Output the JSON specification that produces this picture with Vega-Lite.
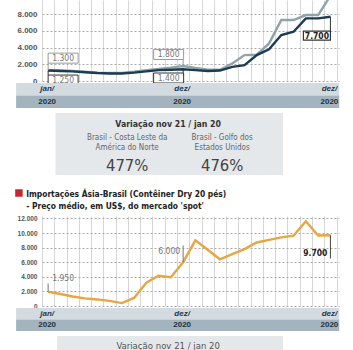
{
  "$schema": "https://vega.github.io/schema/vega-lite/v6.json",
  "background": "white",
  "padding": {"left": 15, "top": 0, "right": 0, "bottom": 0},
  "autosize": {"type": "pad"},
  "spacing": 0,
  "bounds": "flush",
  "resolve": {"scale": {"color": "independent"}},
  "config": {
    "view": {"stroke": null},
    "text": {"font": "Liberation Sans Narrow, DejaVu Sans Condensed, Roboto, sans-serif"},
    "axis": {"labelOverlap": false, "labelSeparation": 0, "labelBound": false, "labelFlush": false},
    "locale": {"number": {"decimal": ",", "thousands": ".", "grouping": [3], "currency": ["US$", ""]}}
  },
  "datasets": {
    "top": [
      {"i":0,"serie":"Costa Leste","v":1300},{"i":1,"serie":"Costa Leste","v":1250},{"i":2,"serie":"Costa Leste","v":1200},{"i":3,"serie":"Costa Leste","v":1100},{"i":4,"serie":"Costa Leste","v":1000},{"i":5,"serie":"Costa Leste","v":950},{"i":6,"serie":"Costa Leste","v":950},{"i":7,"serie":"Costa Leste","v":1100},{"i":8,"serie":"Costa Leste","v":1300},{"i":9,"serie":"Costa Leste","v":1450},{"i":10,"serie":"Costa Leste","v":1600},{"i":11,"serie":"Costa Leste","v":1800},{"i":12,"serie":"Costa Leste","v":1550},{"i":13,"serie":"Costa Leste","v":1350},{"i":14,"serie":"Costa Leste","v":1350},{"i":15,"serie":"Costa Leste","v":2100},{"i":16,"serie":"Costa Leste","v":3100},{"i":17,"serie":"Costa Leste","v":3150},{"i":18,"serie":"Costa Leste","v":4500},{"i":19,"serie":"Costa Leste","v":7300},{"i":20,"serie":"Costa Leste","v":7300},{"i":21,"serie":"Costa Leste","v":7900},{"i":22,"serie":"Costa Leste","v":7900},{"i":23,"serie":"Costa Leste","v":10200},
      {"i":0,"serie":"Golfo","v":1250},{"i":1,"serie":"Golfo","v":1200},{"i":2,"serie":"Golfo","v":1150},{"i":3,"serie":"Golfo","v":1050},{"i":4,"serie":"Golfo","v":950},{"i":5,"serie":"Golfo","v":900},{"i":6,"serie":"Golfo","v":900},{"i":7,"serie":"Golfo","v":1000},{"i":8,"serie":"Golfo","v":1150},{"i":9,"serie":"Golfo","v":1300},{"i":10,"serie":"Golfo","v":1350},{"i":11,"serie":"Golfo","v":1400},{"i":12,"serie":"Golfo","v":1300},{"i":13,"serie":"Golfo","v":1200},{"i":14,"serie":"Golfo","v":1250},{"i":15,"serie":"Golfo","v":1700},{"i":16,"serie":"Golfo","v":1900},{"i":17,"serie":"Golfo","v":3100},{"i":18,"serie":"Golfo","v":3800},{"i":19,"serie":"Golfo","v":5500},{"i":20,"serie":"Golfo","v":5900},{"i":21,"serie":"Golfo","v":7500},{"i":22,"serie":"Golfo","v":7500},{"i":23,"serie":"Golfo","v":7700}
    ],
    "spot": [
      {"i":0,"v":1950},{"i":1,"v":1650},{"i":2,"v":1300},{"i":3,"v":1050},{"i":4,"v":900},{"i":5,"v":700},{"i":6,"v":400},{"i":7,"v":1100},{"i":8,"v":3200},{"i":9,"v":4150},{"i":10,"v":3950},{"i":11,"v":6000},{"i":12,"v":9000},{"i":13,"v":7700},{"i":14,"v":6400},{"i":15,"v":7100},{"i":16,"v":7800},{"i":17,"v":8700},{"i":18,"v":9050},{"i":19,"v":9400},{"i":20,"v":9650},{"i":21,"v":11600},{"i":22,"v":9650},{"i":23,"v":9700}
    ],
    "anT": [
      {"i":0,"v":1300,"t":"1.300"},{"i":0,"v":1250,"t":"1.250"},{"i":11,"v":1800,"t":"1.800"},{"i":11,"v":1400,"t":"1.400"},{"i":23,"v":7700,"t":"7.700"}
    ],
    "anB": [
      {"i":0,"v":1950,"t":"1.950"},{"i":11,"v":6000,"t":"6.000"},{"i":23,"v":9700,"t":"9.700"}
    ],
    "faixas": [{"f":"mes"},{"f":"ano"}],
    "eixo": [
      {"i":0,"mes":"jan/","ano":"2020"},{"i":11,"mes":"dez/","ano":"2020"},{"i":23,"mes":"dez/","ano":"2020"}
    ],
    "var": [
      {"col":"a","nome":"Brasil - Costa Leste da\nAmérica do Norte","pct":"477%"},
      {"col":"b","nome":"Brasil - Golfo dos\nEstados Unidos","pct":"476%"}
    ]
  },
  "vconcat": [
    {
      "width": 297,
      "height": 81,
      "resolve": {"axis": {"x": "independent", "y": "independent"}},
      "layer": [
        {
          "data": {"name": "top"},
          "mark": {"type": "line", "clip": true, "strokeWidth": 2.4},
          "encoding": {
            "x": {"field": "i", "type": "quantitative", "scale": {"domain": [-0.5, 23.7], "nice": false, "zero": false},
              "axis": {"values": [-0.5,0.5,1.5,2.5,3.5,4.5,5.5,6.5,7.5,8.5,9.5,10.5,11.5,12.5,13.5,14.5,15.5,16.5,17.5,18.5,19.5,20.5,21.5,22.5,23.5], "labels": false, "ticks": false, "domain": false, "grid": true, "gridColor": "#d6d6d6", "title": null}},
            "y": {"field": "v", "type": "quantitative", "scale": {"domain": [0, 9700], "nice": false, "zero": false},
              "axis": {"values": [0,2000,4000,6000,8000], "format": ",d", "labelOverlap": false, "labelBound": false, "labelFlush": false, "ticks": false, "domain": false, "grid": true, "gridDash": [2,2], "gridColor": "#a9a9a9", "labelFont": "Liberation Sans", "labelFontWeight": "bold", "labelFontSize": 8, "labelColor": "#555555", "labelPadding": 5, "title": null}},
            "color": {"field": "serie", "type": "nominal", "scale": {"domain": ["Costa Leste", "Golfo"], "range": ["#8fa3ad", "#1d3b51"]}, "legend": null}
          }
        },
        {
          "data": {"name": "anT"},
          "transform": [{"filter": "datum.t == '1.300'"}],
          "encoding": {"x": {"field": "i", "type": "quantitative", "axis": null}, "y": {"field": "v", "type": "quantitative", "axis": null}},
          "layer": [
            {"mark": {"type": "rule", "color": "#9a9a9a", "strokeWidth": 1, "y2Offset": -7}, "encoding": {"y2": {"field": "v"}}},
            {"mark": {"type": "point", "shape": "M-1.5,-0.5H1.5V0.5H-1.5Z", "size": 400, "filled": true, "fill": "white", "stroke": "#9a9a9a", "strokeWidth": 1, "opacity": 1, "xOffset": 15, "yOffset": -12}},
            {"mark": {"type": "text", "dx": 15, "dy": -12, "fontSize": 8.5, "color": "#777777"}, "encoding": {"text": {"field": "t"}}}
          ]
        },
        {
          "data": {"name": "anT"},
          "transform": [{"filter": "datum.t == '1.250'"}],
          "encoding": {"x": {"field": "i", "type": "quantitative", "axis": null}, "y": {"field": "v", "type": "quantitative", "axis": null}},
          "layer": [
            {"mark": {"type": "rule", "color": "#333333", "strokeWidth": 1, "y2Offset": 4.5}, "encoding": {"y2": {"field": "v"}}},
            {"mark": {"type": "point", "shape": "M-1.5,-0.5H1.5V0.5H-1.5Z", "size": 400, "filled": true, "fill": "white", "stroke": "#333333", "strokeWidth": 1, "opacity": 1, "xOffset": 15, "yOffset": 9.5}},
            {"mark": {"type": "text", "dx": 15, "dy": 9.5, "fontSize": 8.5, "color": "#777777"}, "encoding": {"text": {"field": "t"}}}
          ]
        },
        {
          "data": {"name": "anT"},
          "transform": [{"filter": "datum.t == '1.800'"}],
          "encoding": {"x": {"field": "i", "type": "quantitative", "axis": null}, "y": {"field": "v", "type": "quantitative", "axis": null}},
          "layer": [
            {"mark": {"type": "rule", "color": "#9a9a9a", "strokeWidth": 1, "y2Offset": -6.5}, "encoding": {"y2": {"field": "v"}}},
            {"mark": {"type": "point", "shape": "M-1.5,-0.5H1.5V0.5H-1.5Z", "size": 400, "filled": true, "fill": "white", "stroke": "#9a9a9a", "strokeWidth": 1, "opacity": 1, "xOffset": -14.5, "yOffset": -11.5}},
            {"mark": {"type": "text", "dx": -14.5, "dy": -11.5, "fontSize": 8.5, "color": "#777777"}, "encoding": {"text": {"field": "t"}}}
          ]
        },
        {
          "data": {"name": "anT"},
          "transform": [{"filter": "datum.t == '1.400'"}],
          "encoding": {"x": {"field": "i", "type": "quantitative", "axis": null}, "y": {"field": "v", "type": "quantitative", "axis": null}},
          "layer": [
            {"mark": {"type": "rule", "color": "#333333", "strokeWidth": 1, "y2Offset": 3.7}, "encoding": {"y2": {"field": "v"}}},
            {"mark": {"type": "point", "shape": "M-1.5,-0.5H1.5V0.5H-1.5Z", "size": 400, "filled": true, "fill": "white", "stroke": "#333333", "strokeWidth": 1, "opacity": 1, "xOffset": -14.5, "yOffset": 8.7}},
            {"mark": {"type": "text", "dx": -14.5, "dy": 8.7, "fontSize": 8.5, "color": "#777777"}, "encoding": {"text": {"field": "t"}}}
          ]
        },
        {
          "data": {"name": "anT"},
          "transform": [{"filter": "datum.t == '7.700'"}],
          "encoding": {"x": {"field": "i", "type": "quantitative", "axis": null}, "y": {"field": "v", "type": "quantitative", "axis": null}},
          "layer": [
            {"mark": {"type": "rule", "color": "#333333", "strokeWidth": 1, "y2Offset": 14.3}, "encoding": {"y2": {"field": "v"}}},
            {"mark": {"type": "point", "shape": "M-1.5,-0.5H1.5V0.5H-1.5Z", "size": 324, "filled": true, "fill": "white", "stroke": "#333333", "strokeWidth": 1.2, "opacity": 1, "xOffset": -13.5, "yOffset": 19}},
            {"mark": {"type": "text", "dx": -13.5, "dy": 19, "fontSize": 8.5, "fontWeight": "bold", "color": "#222222"}, "encoding": {"text": {"field": "t"}}}
          ]
        }
      ]
    },
    {
      "width": 297,
      "height": 31.5,
      "layer": [
        {
          "data": {"name": "faixas"},
          "mark": {"type": "rect"},
          "encoding": {
            "x": {"datum": -2.61, "type": "quantitative", "scale": {"domain": [-0.5, 23.7], "nice": false, "zero": false}, "axis": null},
            "x2": {"datum": 23.72},
            "y": {"field": "f", "type": "nominal", "scale": {"domain": ["mes", "ano"], "paddingInner": 0, "paddingOuter": 0.26, "align": 0.31}, "axis": null},
            "color": {"field": "f", "type": "nominal", "scale": {"domain": ["mes", "ano"], "range": ["#d3dbe0", "#a4b4bf"]}, "legend": null}
          }
        },
        {
          "data": {"name": "eixo"},
          "mark": {"type": "text", "font": "Liberation Sans", "fontWeight": "bold", "fontStyle": "italic", "fontSize": 8, "color": "#22374a", "dx": -1},
          "encoding": {"x": {"field": "i", "type": "quantitative"}, "y": {"datum": "mes"}, "text": {"field": "mes"}}
        },
        {
          "data": {"name": "eixo"},
          "mark": {"type": "text", "font": "Liberation Sans", "fontWeight": "bold", "fontSize": 8, "color": "#1e2f3c", "dx": -1},
          "encoding": {"x": {"field": "i", "type": "quantitative"}, "y": {"datum": "ano"}, "text": {"field": "ano"}}
        }
      ]
    },
    {
      "width": 297,
      "height": 62,
      "layer": [
        {
          "data": {"values": [{}]},
          "mark": {"type": "rect", "color": "#e4e8eb"},
          "encoding": {"x": {"datum": 0.6, "type": "quantitative", "scale": {"domain": [-0.5, 23.7], "nice": false, "zero": false}, "axis": null}, "x2": {"datum": 19.15}}
        },
        {
          "data": {"values": [{"t": "Variação nov 21 / jan 20"}]},
          "mark": {"type": "text", "fontWeight": "bold", "fontSize": 8.7, "color": "#333333", "dy": -20.2},
          "encoding": {"x": {"datum": 9.78, "type": "quantitative"}, "text": {"field": "t"}}
        },
        {
          "data": {"name": "var"},
          "transform": [{"filter": "datum.col == 'a'"}],
          "encoding": {"x": {"datum": 6.44, "type": "quantitative"}},
          "layer": [
            {"mark": {"type": "text", "fontSize": 8, "color": "#666666", "lineBreak": "\n", "lineHeight": 10.4, "dy": -6.2}, "encoding": {"text": {"field": "nome"}}},
            {"mark": {"type": "text", "fontSize": 16.5, "color": "#444444", "dy": 22}, "encoding": {"text": {"field": "pct"}}}
          ]
        },
        {
          "data": {"name": "var"},
          "transform": [{"filter": "datum.col == 'b'"}],
          "encoding": {"x": {"datum": 14.18, "type": "quantitative"}},
          "layer": [
            {"mark": {"type": "text", "fontSize": 8, "color": "#666666", "lineBreak": "\n", "lineHeight": 10.4, "dy": -6.2}, "encoding": {"text": {"field": "nome"}}},
            {"mark": {"type": "text", "fontSize": 16.5, "color": "#444444", "dy": 22}, "encoding": {"text": {"field": "pct"}}}
          ]
        }
      ]
    },
    {
      "width": 297,
      "height": 41,
      "layer": [
        {
          "data": {"values": [{}]},
          "mark": {"type": "point", "shape": "square", "size": 56, "filled": true, "color": "#c8262c", "opacity": 1, "yOffset": -2.5},
          "encoding": {"x": {"datum": -2.38, "type": "quantitative", "scale": {"domain": [-0.5, 23.7], "nice": false, "zero": false}, "axis": null}}
        },
        {
          "data": {"values": [{"t": "Importações Ásia-Brasil (Contêiner Dry 20 pés)\n- Preço médio, em US$, do mercado 'spot'"}]},
          "mark": {"type": "text", "align": "left", "fontWeight": "bold", "fontSize": 8.4, "color": "#222222", "lineBreak": "\n", "lineHeight": 11.5, "dy": -1.5},
          "encoding": {"x": {"datum": -1.79, "type": "quantitative"}, "text": {"field": "t"}}
        }
      ]
    },
    {
      "width": 297,
      "height": 90,
      "resolve": {"axis": {"x": "independent", "y": "independent"}},
      "layer": [
        {
          "data": {"name": "spot"},
          "mark": {"type": "line", "clip": true, "strokeWidth": 2.4, "color": "#e8a543"},
          "encoding": {
            "x": {"field": "i", "type": "quantitative", "scale": {"domain": [-0.5, 23.7], "nice": false, "zero": false},
              "axis": {"values": [-0.5,0.5,1.5,2.5,3.5,4.5,5.5,6.5,7.5,8.5,9.5,10.5,11.5,12.5,13.5,14.5,15.5,16.5,17.5,18.5,19.5,20.5,21.5,22.5,23.5], "labels": false, "ticks": false, "domain": false, "grid": true, "gridColor": "#d6d6d6", "title": null}},
            "y": {"field": "v", "type": "quantitative", "scale": {"domain": [0, 12330], "nice": false, "zero": false},
              "axis": {"values": [0,2000,4000,6000,8000,10000,12000], "format": ",d", "labelOverlap": false, "labelBound": false, "labelFlush": false, "ticks": false, "domain": false, "grid": true, "gridDash": [2,2], "gridColor": "#a9a9a9", "labelFont": "Liberation Sans", "labelFontWeight": "bold", "labelFontSize": 6.5, "labelColor": "#555555", "labelPadding": 5, "title": null}}
          }
        },
        {
          "data": {"name": "anB"},
          "transform": [{"filter": "datum.t == '1.950'"}],
          "encoding": {"x": {"field": "i", "type": "quantitative", "axis": null}, "y": {"field": "v", "type": "quantitative", "axis": null}},
          "layer": [
            {"mark": {"type": "rule", "color": "#777777", "strokeWidth": 1, "y2Offset": -8.3}, "encoding": {"y2": {"field": "v"}}},
            {"mark": {"type": "text", "align": "left", "dx": 4, "dy": -13.6, "fontSize": 8.5, "color": "#777777"}, "encoding": {"text": {"field": "t"}}}
          ]
        },
        {
          "data": {"name": "anB"},
          "transform": [{"filter": "datum.t == '6.000'"}],
          "encoding": {"x": {"field": "i", "type": "quantitative", "axis": null}, "y": {"field": "v", "type": "quantitative", "axis": null}},
          "layer": [
            {"mark": {"type": "rule", "color": "#777777", "strokeWidth": 1, "y2Offset": -16.7}, "encoding": {"y2": {"field": "v"}}},
            {"mark": {"type": "text", "align": "right", "dx": -3, "dy": -11.7, "fontSize": 8.5, "color": "#777777"}, "encoding": {"text": {"field": "t"}}}
          ]
        },
        {
          "data": {"name": "anB"},
          "transform": [{"filter": "datum.t == '9.700'"}],
          "encoding": {"x": {"field": "i", "type": "quantitative", "axis": null}, "y": {"field": "v", "type": "quantitative", "axis": null}},
          "layer": [
            {"mark": {"type": "rule", "color": "#444444", "strokeWidth": 1, "y2Offset": 23.3}, "encoding": {"y2": {"field": "v"}}},
            {"mark": {"type": "text", "align": "right", "dx": -3, "dy": 18.3, "fontSize": 8.5, "fontWeight": "bold", "color": "#222222"}, "encoding": {"text": {"field": "t"}}}
          ]
        }
      ]
    },
    {
      "width": 297,
      "height": 29.5,
      "layer": [
        {
          "data": {"name": "faixas"},
          "mark": {"type": "rect"},
          "encoding": {
            "x": {"datum": -2.61, "type": "quantitative", "scale": {"domain": [-0.5, 23.7], "nice": false, "zero": false}, "axis": null},
            "x2": {"datum": 23.72},
            "y": {"field": "f", "type": "nominal", "scale": {"domain": ["mes", "ano"], "paddingInner": 0, "paddingOuter": 0.283, "align": 0.31}, "axis": null},
            "color": {"field": "f", "type": "nominal", "scale": {"domain": ["mes", "ano"], "range": ["#d3dbe0", "#a4b4bf"]}, "legend": null}
          }
        },
        {
          "data": {"name": "eixo"},
          "mark": {"type": "text", "font": "Liberation Sans", "fontWeight": "bold", "fontStyle": "italic", "fontSize": 8, "color": "#22374a", "dx": -1},
          "encoding": {"x": {"field": "i", "type": "quantitative"}, "y": {"datum": "mes"}, "text": {"field": "mes"}}
        },
        {
          "data": {"name": "eixo"},
          "mark": {"type": "text", "font": "Liberation Sans", "fontWeight": "bold", "fontSize": 8, "color": "#1e2f3c", "dx": -1},
          "encoding": {"x": {"field": "i", "type": "quantitative"}, "y": {"datum": "ano"}, "text": {"field": "ano"}}
        }
      ]
    },
    {
      "width": 297,
      "height": 20,
      "layer": [
        {
          "data": {"values": [{}]},
          "mark": {"type": "rect", "color": "#e4e8eb"},
          "encoding": {"x": {"datum": 0.73, "type": "quantitative", "scale": {"domain": [-0.5, 23.7], "nice": false, "zero": false}, "axis": null}, "x2": {"datum": 19.15}}
        },
        {
          "data": {"values": [{"t": "Variação nov 21 / jan 20"}]},
          "mark": {"type": "text", "fontSize": 9.5, "color": "#555555"},
          "encoding": {"x": {"datum": 9.78, "type": "quantitative"}, "text": {"field": "t"}}
        }
      ]
    }
  ]
}
